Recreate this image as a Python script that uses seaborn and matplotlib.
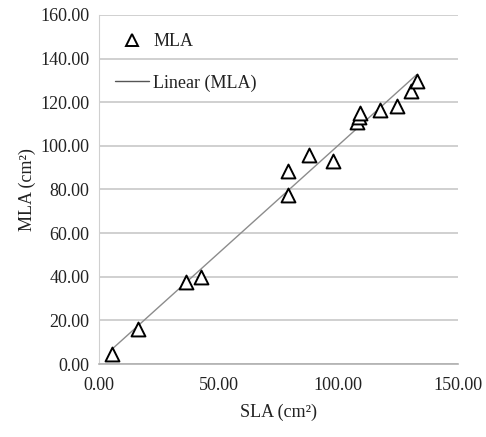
import matplotlib
matplotlib.use("Agg")
import matplotlib.pyplot as plt
import numpy as np
import pandas as pd
import seaborn as sns
from matplotlib.lines import Line2D

sla = [5.3, 16.3, 36.5, 42.5, 78.8, 78.8, 87.8, 97.6, 107.8, 108.6, 109.0, 117.6, 124.4, 130.4, 132.8]
mla = [4.5, 16.0, 37.5, 39.8, 88.5, 77.5, 95.7, 93.0, 110.7, 113.2, 115.0, 116.3, 118.2, 125.0, 129.5]

x_ticks = [0, 50, 100, 150]
y_ticks = [0, 20, 40, 60, 80, 100, 120, 140, 160]

df = pd.DataFrame({"SLA": sla, "MLA": mla})

sns.set_style("white")
plt.rcParams["font.family"] = ["Liberation Serif", "DejaVu Serif"]

fig = plt.figure(figsize=(4.86, 4.37), dpi=100)
ax = fig.add_axes([0.204, 0.167, 0.738, 0.799])

# linear trendline fitted over the data range, like the spreadsheet one
sns.regplot(
    data=df, x="SLA", y="MLA", ax=ax, ci=None, scatter=False,
    line_kws={"color": "#8c8c8c", "linewidth": 1.0},
)
sns.scatterplot(
    data=df, x="SLA", y="MLA", ax=ax, marker="^", s=100,
    facecolor="white", edgecolor="black", linewidth=1.4, zorder=3,
)

ax.set_xlim(0, 150)
ax.set_ylim(0, 160)
ax.set_xticks(x_ticks)
ax.set_yticks(y_ticks)
ax.set_xticklabels([f"{v:.2f}" for v in x_ticks])
ax.set_yticklabels([f"{v:.2f}" for v in y_ticks])
ax.yaxis.grid(True, color="#c8c8c8", linewidth=1.2)
ax.set_axisbelow(True)

for side in ["top", "right"]:
    ax.spines[side].set_visible(False)
ax.spines["left"].set_color("#d0d0d0")
ax.spines["bottom"].set_color("#b0b0b0")
ax.spines["bottom"].set_linewidth(1.2)
ax.tick_params(axis="x", direction="out", length=4, color="#b0b0b0",
               labelsize=13, pad=5, labelcolor="#222222")
ax.tick_params(axis="y", direction="out", length=4, color="#c8c8c8",
               labelsize=13, pad=3, labelcolor="#222222")

ax.set_xlabel("SLA (cm²)", fontsize=13, labelpad=7, color="#222222")
ax.set_ylabel("MLA (cm²)", fontsize=13, labelpad=3, color="#222222")

handles = [
    Line2D([], [], marker="^", linestyle="none", markersize=8,
           markerfacecolor="white", markeredgecolor="black", markeredgewidth=1.4),
    Line2D([], [], color="#555555", linewidth=1.0),
]
ax.legend(handles, ["MLA", "Linear (MLA)"], loc="upper left",
          bbox_to_anchor=(0.0, 0.995), frameon=False, fontsize=13,
          handlelength=1.85, handletextpad=0.25, labelspacing=1.35,
          labelcolor="#222222")

fig.savefig("out.png", dpi=100)
